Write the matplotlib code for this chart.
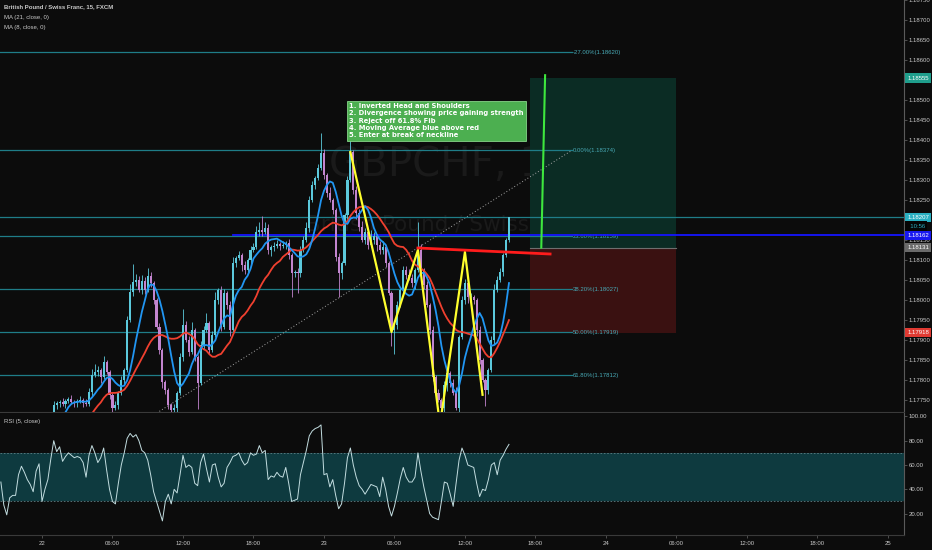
import numpy as np
import pandas as pd
import matplotlib
matplotlib.use("Agg")
import matplotlib.pyplot as plt

# 15-minute bars, GBPCHF (FXCM); bar 0 = 21st 20:30
closes = [
    1.17612, 1.17595, 1.17580, 1.17592, 1.17598, 1.17600, 1.17620, 1.17630, 1.17622, 1.17612,
    1.17608, 1.17598, 1.17625, 1.17638, 1.17612, 1.17650, 1.17680, 1.17712, 1.17738, 1.17742,
    1.17745, 1.17740, 1.17748, 1.17752, 1.17745, 1.17742, 1.17748, 1.17750, 1.17742, 1.17740,
    1.17770, 1.17812, 1.17820, 1.17825, 1.17808, 1.17845, 1.17820, 1.17762, 1.17730, 1.17738,
    1.17768, 1.17800, 1.17825, 1.17950, 1.18020, 1.18045, 1.18050, 1.18025, 1.18048, 1.18025,
    1.18060, 1.18042, 1.18000, 1.17932, 1.17875, 1.17795, 1.17775, 1.17738, 1.17725, 1.17730,
    1.17768, 1.17858, 1.17938, 1.17900, 1.17870, 1.17925, 1.17858, 1.17792, 1.17888, 1.17925,
    1.17942, 1.17875, 1.17912, 1.18000, 1.18025, 1.17932, 1.18018, 1.17988, 1.17925, 1.18092,
    1.18105, 1.18112, 1.18088, 1.18075, 1.18100, 1.18125, 1.18132, 1.18170, 1.18175, 1.18170,
    1.18180, 1.18125, 1.18132, 1.18135, 1.18140, 1.18135, 1.18138, 1.18142, 1.18112, 1.18068,
    1.18070, 1.18068, 1.18125, 1.18150, 1.18180, 1.18250, 1.18288, 1.18305, 1.18330, 1.18368,
    1.18312, 1.18268, 1.18250, 1.18225, 1.18108, 1.18068, 1.18092, 1.18212, 1.18300, 1.18370,
    1.18275, 1.18218, 1.18182, 1.18150, 1.18170, 1.18138, 1.18150, 1.18160, 1.18138, 1.18125,
    1.18132, 1.18092, 1.18018, 1.17925, 1.17938, 1.17988, 1.18025, 1.18075, 1.18062, 1.18055,
    1.18042, 1.18075, 1.18125, 1.18075, 1.18038, 1.17988, 1.17925, 1.17808, 1.17768, 1.17750,
    1.17730, 1.17788, 1.17818, 1.17792, 1.17768, 1.17730, 1.17908, 1.18000, 1.18042, 1.18008,
    1.18008, 1.18000, 1.17925, 1.17850, 1.17800, 1.17775, 1.17825, 1.17900, 1.18025, 1.18050,
    1.18070, 1.18112, 1.18150, 1.18207,
]
# wick lengths beyond the candle body, in half pips
wick_up = [
    2, 1, 1, 2, 1, 2, 1, 2, 1, 1,  1, 2, 1, 2, 1, 2, 2, 1, 2, 1,
    1, 2, 1, 1, 2, 1, 1, 2, 1, 2,  2, 3, 4, 2, 1, 3, 1, 1, 1, 2,
    1, 2, 1, 2, 4, 9, 3, 2, 3, 2,  4, 2, 1, 1, 2, 1, 1, 1, 1, 2,
    1, 2, 8, 2, 2, 4, 1, 1, 2, 2,  5, 1, 2, 4, 1, 2, 2, 1, 2, 3,
    1, 2, 1, 2, 1, 2, 2, 3, 4, 7,  3, 2, 1, 2, 2, 1, 2, 1, 2, 1,
    1, 2, 2, 2, 3, 2, 2, 1, 2, 10, 2, 1, 3, 1, 1, 2, 1, 1, 2, 6,
    1, 2, 2, 3, 2, 1, 5, 2, 1, 2,  3, 1, 1, 1, 2, 2, 1, 2, 2, 3,
    2, 1, 14, 3, 1, 2, 1, 2, 1, 2, 1, 2, 2, 1, 2, 3, 1, 2, 2, 1,
    2, 1, 1, 2, 1, 1, 1, 2, 3, 2,  2, 1, 1, 0,
]
wick_dn = [
    1, 2, 2, 1, 2, 1, 1, 1, 2, 1,  2, 1, 2, 1, 2, 1, 1, 2, 1, 2,
    2, 1, 2, 1, 1, 2, 2, 1, 2, 1,  1, 2, 1, 2, 3, 1, 1, 2, 2, 1,
    2, 1, 2, 1, 1, 2, 2, 1, 2, 2,  1, 2, 2, 1, 2, 3, 2, 2, 2, 1,
    2, 1, 2, 1, 2, 1, 2, 13, 1, 2, 1, 2, 1, 1, 2, 2, 1, 2, 3, 1,
    2, 1, 3, 2, 1, 2, 1, 1, 2, 2,  1, 2, 3, 2, 1, 2, 1, 2, 2, 12,
    2, 10, 2, 1, 1, 2, 1, 2, 1, 1, 2, 2, 1, 2, 2, 12, 3, 1, 2, 1,
    2, 3, 2, 1, 2, 2, 1, 2, 3, 2,  2, 2, 1, 8, 12, 2, 1, 2, 2, 1,
    2, 3, 1, 2, 2, 1, 2, 2, 2, 1,  1, 2, 3, 2, 1, 1, 2, 1, 2, 3,
    2, 2, 3, 2, 1, 8, 2, 1, 2, 1,  1, 2, 1, 1,
]
rsi = [
    46, 27, 19, 33, 35, 35, 52, 59, 54, 48, 44, 38, 55, 61, 30, 40, 48, 65, 80, 71,
    75, 63, 67, 70, 68, 66, 67, 66, 62, 50, 68, 76, 70, 62, 66, 74, 56, 40, 30, 28,
    45, 60, 70, 82, 86, 83, 85, 80, 72, 70, 64, 52, 38, 30, 22, 14, 30, 36, 28, 40,
    37, 52, 68, 58, 60, 58, 45, 43, 62, 69, 57, 46, 60, 61, 50, 42, 45, 58, 62, 67,
    68, 70, 64, 60, 62, 70, 68, 69, 76, 70, 72, 48, 51, 50, 54, 51, 50, 58, 45, 30,
    31, 32, 52, 62, 72, 84, 88, 90, 91, 93, 52, 53, 42, 48, 35, 24, 28, 45, 66, 74,
    60, 50, 43, 40, 36, 40, 44, 43, 42, 34, 50, 40, 26, 18, 26, 37, 49, 58, 50, 46,
    46, 50, 70, 55, 42, 31, 20, 17, 16, 15, 30, 46, 45, 36, 26, 45, 64, 74, 68, 60,
    59, 58, 45, 34, 40, 39, 48, 60, 62, 52, 64, 68, 73, 77,
]

time_ticks = [14, 38, 62, 86, 110, 134, 158, 182, 206, 230, 254, 278, 302]
time_labels = ["22", "06:00", "12:00", "18:00", "23", "06:00", "12:00", "18:00",
               "24", "06:00", "12:00", "18:00", "25"]

fib_labels = ["-27.00%", "0.00%", "23.60%", "38.20%", "50.00%", "61.80%"]
fib_prices = [1.18620, 1.18374, 1.18159, 1.18027, 1.17919, 1.17812]
fib_from = (-1.7, 1.17463)
fib_to = (194.4, 1.18374)

# inverted head and shoulders sketch + neckline
hs_bars = [119, 133, 142, 149.5, 158, 164]
hs_prices = [1.18370, 1.17920, 1.18125, 1.17688, 1.18120, 1.17763]
neck_bars = [142, 187]
neck_prices = [1.18130, 1.18115]
up_bars = [184, 185.3]
up_prices = [1.18131, 1.18562]

# long position tool
pos_bars = (180, 230)
entry, target, stop = 1.18131, 1.18555, 1.17918
blue_level = 1.18162
blue_from = 79

notes = ("1. Inverted Head and Shoulders\n"
         "2. Divergence showing price gaining strength\n"
         "3. Reject off 61.8% Fib\n"
         "4. Moving Average blue above red\n"
         "5. Enter at break of neckline")

BG = "#0c0c0c"
UP, DN = "#5cc9dc", "#c385cf"
FIB = "#1f7d88"
TXT = "#c9c9c9"
plt.rcParams["font.family"] = ["Liberation Sans", "DejaVu Sans"]

fig = plt.figure(figsize=(9.32, 5.5), dpi=100, facecolor=BG)
ax = fig.add_axes([0, 1 - 412 / 550, 904 / 932, 412 / 550])
ar = fig.add_axes([0, 15 / 550, 904 / 932, 122 / 550])
for a in (ax, ar):
    a.set_facecolor(BG)
    for s in ("top", "left"):
        a.spines[s].set_visible(False)
    a.spines["right"].set_color("#5a5a5a")
    a.spines["bottom"].set_color("#3a3a3a")
    a.set_xlim(-0.3, 307.5)
    a.yaxis.tick_right()
    a.tick_params(axis="y", colors="#5a5a5a", labelcolor=TXT, labelsize=4.3,
                  length=2, width=0.6, pad=1.5)

ax.set_ylim(1.1772, 1.1875)
ax.set_xticks([])
ax.set_yticks(np.arange(1.1775, 1.18751, 0.0005))
ax.yaxis.set_major_formatter(matplotlib.ticker.FormatStrFormatter("%.5f"))

# watermark
ax.text(153, 1.18337, "GBPCHF, 15", fontsize=29, family="DejaVu Sans",
        color="#1a1a1a", ha="center", va="center", zorder=0.2)
ax.text(153, 1.18190, "British Pound / Swiss Franc", fontsize=15.5,
        family="DejaVu Sans", color="#1a1a1a", ha="center", va="center", zorder=0.2)

# position tool
ax.fill_between(pos_bars, entry, target, color="#0b2c24", lw=0, zorder=0.5)
ax.fill_between(pos_bars, stop, entry, color="#3a1111", lw=0, zorder=0.5)
ax.plot(pos_bars, [entry, entry], color="#6e6e6e", lw=0.8, zorder=0.6)

# fib retracement
for lab, p in zip(fib_labels, fib_prices):
    ax.plot([fib_from[0], fib_to[0]], [p, p], color=FIB, lw=0.9, zorder=1)
    ax.text(fib_to[0] + 0.3, p, f"{lab}({p:.5f})", color="#48a9b5", fontsize=4.3,
            va="center", ha="left", zorder=1)
ax.plot([fib_from[0], fib_to[0]], [fib_from[1], fib_to[1]], color="#a8a8a8",
        lw=0.7, ls=(0, (1, 2.2)), zorder=1)

# last price and blue level
ax.axhline(closes[-1], color=FIB, lw=0.9, zorder=1)
ax.plot([blue_from, 307.5], [blue_level, blue_level], color="#1414ff", lw=1.3, zorder=2)

# candles
c = np.array(closes)
o = np.r_[c[0], c[:-1]]
hi = np.maximum(o, c) + np.array(wick_up) * 0.00005
lo = np.minimum(o, c) - np.array(wick_dn) * 0.00005
x = np.arange(len(c))
cols = np.where(c >= o, UP, DN)
ax.vlines(x, lo, hi, colors=cols, lw=0.6, zorder=3)
ax.bar(x, np.maximum(np.abs(c - o), 0.00002), bottom=np.minimum(o, c), width=0.72,
       color=cols, lw=0, zorder=3)

# moving averages
s = pd.Series(closes)
ax.plot(x, s.rolling(21).mean(), color="#f0402f", lw=1.3, zorder=4)
ax.plot(x, s.rolling(8).mean(), color="#2196f3", lw=1.3, zorder=4)

# drawings
ax.plot(hs_bars, hs_prices, color="#ffff2e", lw=1.6, zorder=5)
ax.plot(neck_bars, neck_prices, color="#ff1c1c", lw=2.0, zorder=5)
ax.plot(up_bars, up_prices, color="#3ee63e", lw=1.5, zorder=5)

ax.text(118.6, 1.18492, notes, fontsize=4.85, fontweight="bold", family="DejaVu Sans",
        color="white", va="top", ha="left", linespacing=1.25, zorder=6,
        bbox=dict(boxstyle="square,pad=0.35", fc="#4caf50", ec="#86d488", lw=0.6))

# legend texts
fig.text(4 / 932, 1 - 7 / 550, "British Pound / Swiss Franc, 15, FXCM", color=TXT,
         fontsize=4.3, fontweight="bold", va="center")
fig.text(4 / 932, 1 - 18 / 550, "MA (21, close, 0)", color=TXT, fontsize=4.3, va="center")
fig.text(4 / 932, 1 - 28 / 550, "MA (8, close, 0)", color=TXT, fontsize=4.3, va="center")
fig.text(4 / 932, 1 - 421 / 550, "RSI (5, close)", color=TXT, fontsize=4.3, va="center")

# price scale badges
badges = [(target, "#1f9e8c"), (closes[-1], "#2ab0c2"),
          (blue_level, "#1818f0"), (entry, "#6a6a6a"), (stop, "#e03a32")]
yt = ax.get_yaxis_transform()
for p, fc in badges:
    ax.text(1.0035, p, f"{p:.5f}", transform=yt, color="white", fontsize=4.3,
            va="center", ha="left", zorder=10, clip_on=False,
            bbox=dict(boxstyle="square,pad=0.35", fc=fc, ec="none"))
ax.text(1.0035, closes[-1] - 0.00022, "  10:56", transform=yt, color="#2ab0c2",
        fontsize=4.3, va="center", ha="left", zorder=10, clip_on=False,
        bbox=dict(boxstyle="square,pad=0.35", fc="#050505", ec="none"))

# RSI panel
ar.set_ylim(2.4, 102.8)
ar.axhspan(30, 70, color="#0e3a3f", lw=0, zorder=0)
ar.axhline(70, color="#5f7f85", lw=0.6, ls=(0, (2, 2)))
ar.axhline(30, color="#5f7f85", lw=0.6, ls=(0, (2, 2)))
ar.plot(np.arange(len(rsi)), rsi, color="#c2dde0", lw=0.7, zorder=3)
ar.set_yticks([20, 40, 60, 80, 100])
ar.yaxis.set_major_formatter(matplotlib.ticker.FormatStrFormatter("%.2f"))
ar.set_xticks(time_ticks)
ar.set_xticklabels(time_labels)
ar.tick_params(axis="x", colors="#5a5a5a", labelcolor=TXT, labelsize=4.3,
               length=2, width=0.6, pad=2)

fig.savefig("out.png", dpi=100, facecolor=BG)
